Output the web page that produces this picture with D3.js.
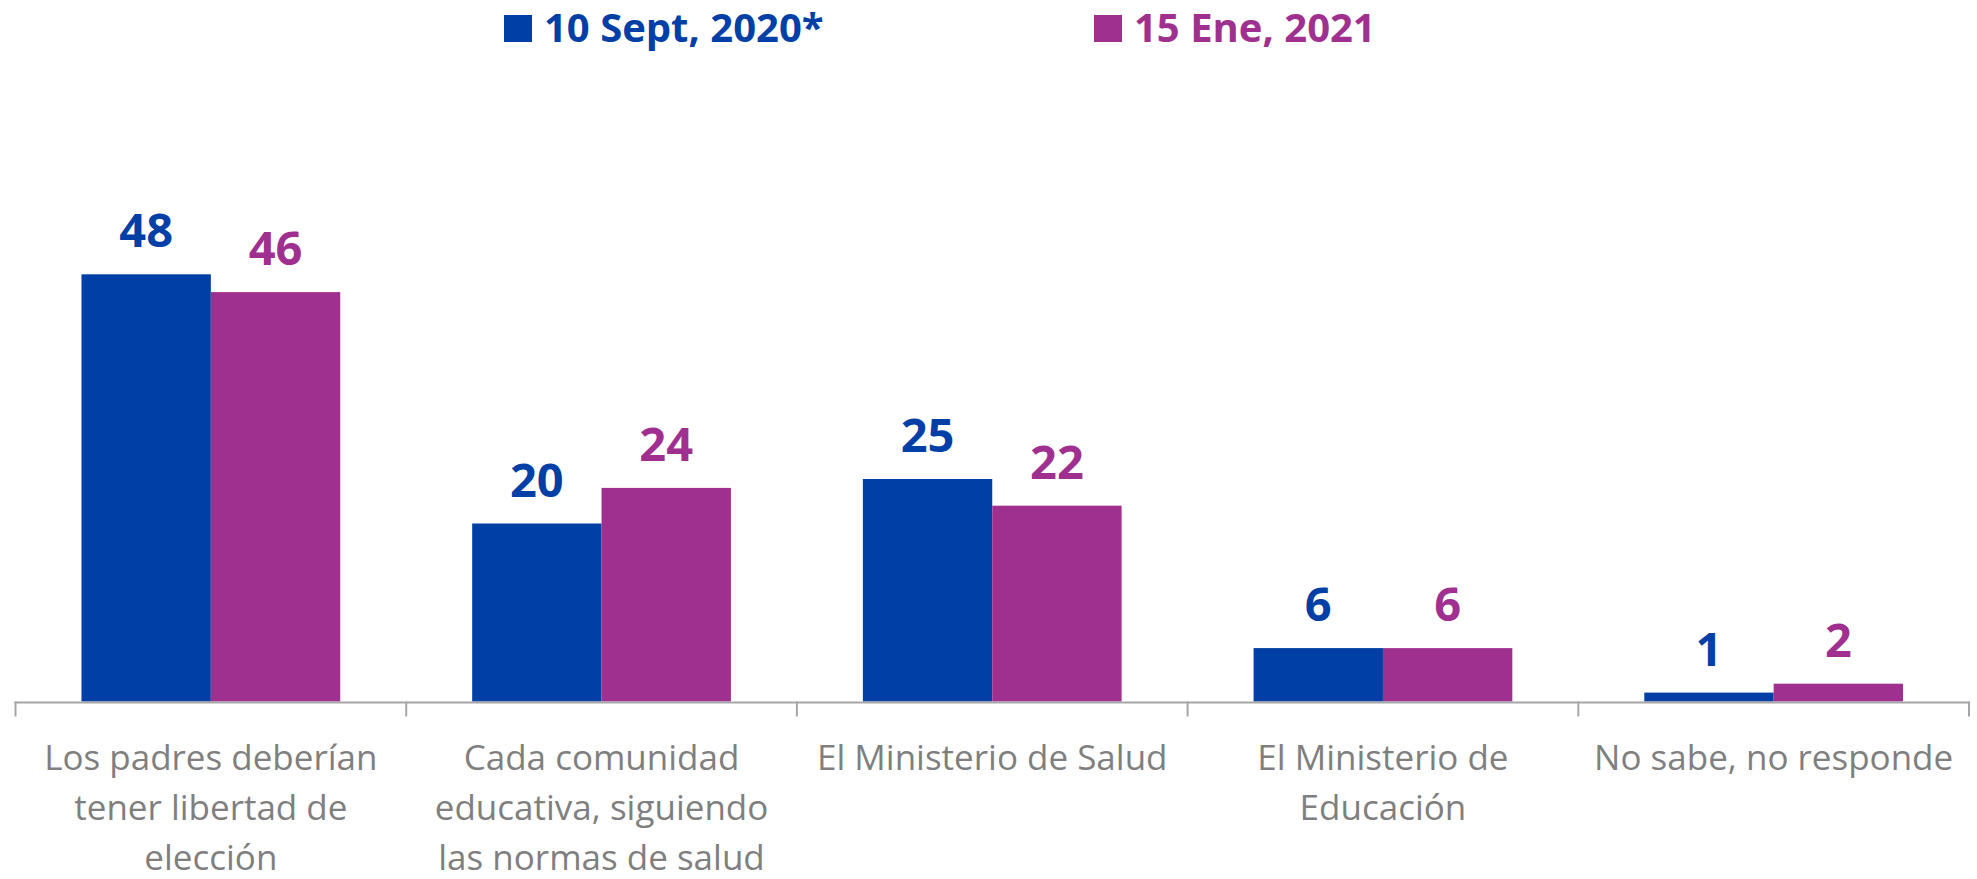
<!DOCTYPE html>
<html>
<head>
<meta charset="utf-8">
<script src="https://cdn.jsdelivr.net/npm/d3@7"></script>
<style>
  html, body { margin: 0; padding: 0; background: #fff; }
  svg { display: block; }
</style>
</head>
<body>
<div id="chart"></div>
<script>
const categories = [
  ["Los padres deberían", "tener libertad de", "elección"],
  ["Cada comunidad", "educativa, siguiendo", "las normas de salud"],
  ["El Ministerio de Salud"],
  ["El Ministerio de", "Educación"],
  ["No sabe, no responde"]
];
const seriesNames = ["10 Sept, 2020*", "15 Ene, 2021"];
const sept2020 = [48, 20, 25, 6, 1];
const ene2021 = [46, 24, 22, 6, 2];
const colors = ["#003FA6", "#A0308F"];

const W = 1977, H = 879;
const baseY = 701.5;

const svg = d3.select("#chart").append("svg")
  .attr("width", W).attr("height", H);

const idx = d3.range(categories.length);
const x0 = d3.scaleBand().domain(idx).range([15.5, 1969]).paddingInner(0).paddingOuter(0);
const x1 = d3.scaleBand().domain([0, 1]).range([0, x0.bandwidth()]).paddingInner(0).paddingOuter(0.51);
const y = d3.scaleLinear().domain([0, 50]).range([baseY, baseY - 8.9 * 50]);

const series = [sept2020, ene2021];

// bars + value labels
series.forEach((vals, s) => {
  svg.append("g").selectAll("rect")
    .data(vals)
    .join("rect")
    .attr("x", (d, i) => x0(i) + x1(s))
    .attr("y", d => y(d))
    .attr("width", x1.bandwidth())
    .attr("height", d => y(0) - y(d))
    .attr("fill", colors[s]);

  svg.append("g").selectAll("text")
    .data(vals)
    .join("text")
    .attr("x", (d, i) => x0(i) + x1(s) + x1.bandwidth() / 2)
    .attr("y", d => y(d) - 27)
    .attr("text-anchor", "middle")
    .attr("font-family", "Open Sans, sans-serif")
    .attr("font-weight", "bold")
    .attr("font-size", 47)
    .attr("fill", colors[s])
    .text(d => d);
});

// axis
const axis = svg.append("g").attr("stroke", "#A6A6A6").attr("stroke-width", 2);
axis.append("line")
  .attr("x1", x0.range()[0] - 1).attr("x2", x0.range()[1] + 1)
  .attr("y1", baseY + 1).attr("y2", baseY + 1);
idx.concat([categories.length]).forEach(i => {
  const xx = i < categories.length ? x0(i) : x0.range()[1];
  axis.append("line")
    .attr("x1", xx).attr("x2", xx)
    .attr("y1", baseY).attr("y2", baseY + 15);
});

// category labels
const catG = svg.append("g")
  .attr("font-family", "Open Sans, sans-serif")
  .attr("font-size", 35)
  .attr("fill", "#7F7F7F")
  .attr("text-anchor", "middle");
categories.forEach((lines, i) => {
  const t = catG.append("text");
  lines.forEach((ln, j) => {
    t.append("tspan")
      .attr("x", x0(i) + x0.bandwidth() / 2)
      .attr("y", 770 + j * 50)
      .text(ln);
  });
});

// legend
const legendX = [504, 1094];
const leg = svg.append("g");
seriesNames.forEach((name, s) => {
  leg.append("rect")
    .attr("x", legendX[s]).attr("y", 15)
    .attr("width", 28).attr("height", 27)
    .attr("fill", colors[s]);
  leg.append("text")
    .attr("x", legendX[s] + 40).attr("y", 42)
    .attr("font-family", "Open Sans, sans-serif")
    .attr("font-weight", "bold")
    .attr("font-size", 40)
    .attr("fill", colors[s])
    .text(name);
});
</script>
</body>
</html>
